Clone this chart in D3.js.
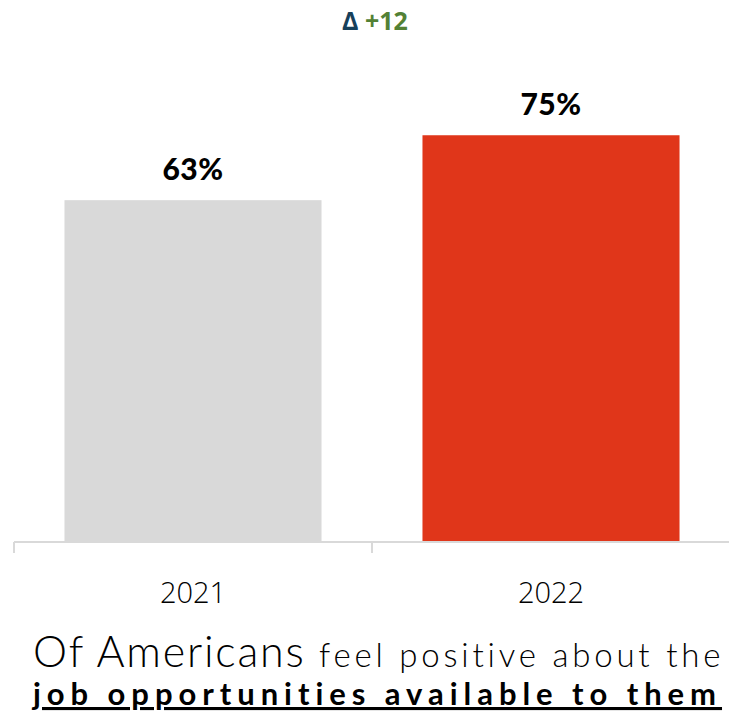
<!DOCTYPE html>
<html>
<head>
<meta charset="utf-8">
<script src="https://cdn.jsdelivr.net/npm/d3@7"></script>
<style>
  html, body { margin: 0; padding: 0; background: #fff; }
  svg { display: block; }
</style>
</head>
<body>
<svg id="chart" width="729" height="721"></svg>
<script>
// Share of Americans positive about available job opportunities
const years = ["2021", "2022"];
const values = [63, 75];
const barColors = ["#d9d9d9", "#e0361a"];
const deltaLabel = "+12";

const W = 729, H = 721;
const svg = d3.select("#chart");

const x = d3.scaleBand()
  .domain(years)
  .range([14, 730])
  .paddingInner(0.282)
  .paddingOuter(0.141);

const y = d3.scaleLinear().domain([0, 100]).range([541, 0]);

// bars
svg.selectAll("rect.bar")
  .data(years)
  .join("rect")
  .attr("class", "bar")
  .attr("x", d => x(d))
  .attr("width", x.bandwidth())
  .attr("y", (d, i) => y(values[i]))
  .attr("height", (d, i) => y(0) - y(values[i]))
  .attr("fill", (d, i) => barColors[i]);

// value labels
svg.selectAll("text.val")
  .data(years)
  .join("text")
  .attr("class", "val")
  .attr("x", d => x(d) + x.bandwidth() / 2)
  .attr("y", (d, i) => y(values[i]) - 20)
  .attr("text-anchor", "middle")
  .attr("font-family", "Lato, sans-serif")
  .attr("font-weight", 900)
  .attr("font-size", 30)
  .attr("letter-spacing", 0.5)
  .attr("fill", "#000")
  .text((d, i) => values[i] + "%");

// category axis with boundary ticks between bands
const axisY = 542;
const g = svg.append("g");
g.append("line")
  .attr("x1", 14).attr("x2", W)
  .attr("y1", axisY).attr("y2", axisY)
  .attr("stroke", "#d9d9d9").attr("stroke-width", 2);
const boundaries = years.map(d => x(d) - x.step() * x.paddingInner() / 2).concat([730]);
g.selectAll("line.tick")
  .data(boundaries)
  .join("line")
  .attr("class", "tick")
  .attr("x1", d => d).attr("x2", d => d)
  .attr("y1", axisY).attr("y2", axisY + 11)
  .attr("stroke", "#d9d9d9").attr("stroke-width", 2);

svg.selectAll("text.year")
  .data(years)
  .join("text")
  .attr("class", "year")
  .attr("x", d => x(d) + x.bandwidth() / 2)
  .attr("y", 603)
  .attr("text-anchor", "middle")
  .attr("font-family", "'Open Sans', sans-serif")
  .attr("font-weight", 300)
  .attr("font-size", 29)
  .attr("fill", "#000")
  .text(d => d);

// change between years
const delta = svg.append("text")
  .attr("x", 375).attr("y", 30)
  .attr("text-anchor", "middle")
  .attr("font-family", "'Open Sans', sans-serif")
  .attr("font-weight", 700)
  .attr("font-size", 25);
delta.append("tspan").attr("fill", "#17405a").text("Δ ");
delta.append("tspan").attr("fill", "#538135").text(deltaLabel);

// caption
const cap1 = svg.append("text")
  .attr("x", 33).attr("y", 667)
  .attr("font-family", "Lato, sans-serif")
  .attr("font-weight", 300)
  .attr("fill", "#000");
cap1.append("tspan").attr("font-size", 43).attr("letter-spacing", 1.8).text("Of Americans ");
cap1.append("tspan").attr("font-size", 33).attr("letter-spacing", 3.8).text("feel positive about the");

svg.append("text")
  .attr("x", 33).attr("y", 705)
  .attr("font-family", "Lato, sans-serif")
  .attr("font-weight", 700)
  .attr("font-size", 31)
  .attr("letter-spacing", 5.95)
  .attr("text-decoration", "underline")
  .attr("fill", "#000")
  .text("job opportunities available to them");
</script>
</body>
</html>
